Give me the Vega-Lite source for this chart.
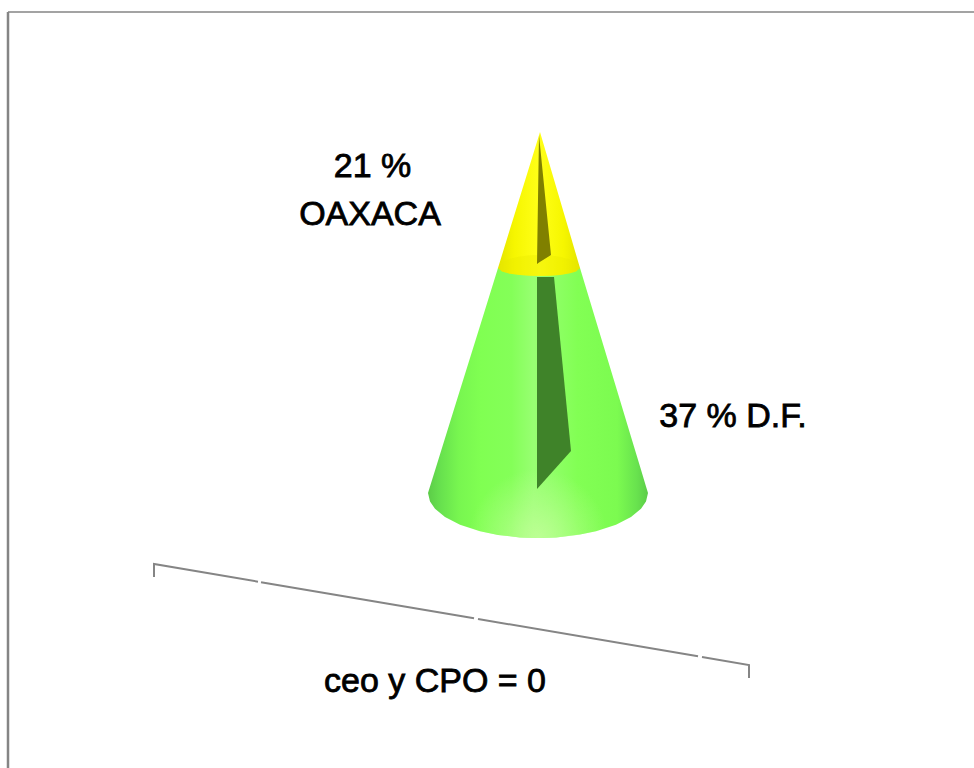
{
  "$schema": "https://vega.github.io/schema/vega-lite/v6.json",
  "width": 974,
  "height": 768,
  "padding": 0,
  "autosize": "none",
  "background": "#ffffff",
  "config": {"view": {"stroke": null}},
  "datasets": {
    "frameTop": [{"x": 8, "y": 12, "i": 0}, {"x": 974, "y": 12, "i": 1}],
    "frameLeft": [{"x": 8, "y": 12, "i": 0}, {"x": 8, "y": 768, "i": 1}],
    "bracket": [
      {"seg": "a", "i": 0, "x": 154, "y": 577},
      {"seg": "a", "i": 1, "x": 154, "y": 564},
      {"seg": "a", "i": 2, "x": 258, "y": 581.7},
      {"seg": "b", "i": 0, "x": 261, "y": 582.2},
      {"seg": "b", "i": 1, "x": 474, "y": 618.3},
      {"seg": "c", "i": 0, "x": 478, "y": 619},
      {"seg": "c", "i": 1, "x": 698, "y": 656.3},
      {"seg": "d", "i": 0, "x": 702, "y": 657},
      {"seg": "d", "i": 1, "x": 749, "y": 665},
      {"seg": "d", "i": 2, "x": 749, "y": 678}
    ],
    "greenBody": [
      {"x": 428, "top": 493, "bottom": 493},
      {"x": 430, "top": 486.6, "bottom": 501.5},
      {"x": 435, "top": 470.5, "bottom": 508.8},
      {"x": 445, "top": 438.3, "bottom": 517},
      {"x": 460, "top": 390.1, "bottom": 524.7},
      {"x": 480, "top": 325.9, "bottom": 531.2},
      {"x": 498, "top": 268, "bottom": 534.9},
      {"x": 520, "top": 268, "bottom": 537.4},
      {"x": 538, "top": 268, "bottom": 538},
      {"x": 556, "top": 268, "bottom": 537.4},
      {"x": 580, "top": 268, "bottom": 534.6},
      {"x": 596, "top": 321, "bottom": 531.2},
      {"x": 616, "top": 387.1, "bottom": 524.7},
      {"x": 631, "top": 436.8, "bottom": 517},
      {"x": 641, "top": 469.8, "bottom": 508.8},
      {"x": 646, "top": 486.4, "bottom": 501.5},
      {"x": 648, "top": 493, "bottom": 493}
    ],
    "greenGlow": [
      {"x": 470, "top": 400, "bottom": 528.5},
      {"x": 480, "top": 400, "bottom": 531.2},
      {"x": 500, "top": 400, "bottom": 535.2},
      {"x": 520, "top": 400, "bottom": 537.4},
      {"x": 538, "top": 400, "bottom": 538},
      {"x": 556, "top": 400, "bottom": 537.4},
      {"x": 576, "top": 400, "bottom": 535.2},
      {"x": 596, "top": 400, "bottom": 531.2},
      {"x": 606, "top": 400, "bottom": 528.5}
    ],
    "yellowTip": [
      {"x": 498, "top": 268, "bottom": 268},
      {"x": 502, "top": 255, "bottom": 271.4},
      {"x": 510, "top": 229.1, "bottom": 273.7},
      {"x": 520, "top": 196.8, "bottom": 275.1},
      {"x": 530, "top": 164.4, "bottom": 275.8},
      {"x": 540, "top": 132, "bottom": 276},
      {"x": 550, "top": 166, "bottom": 275.7},
      {"x": 560, "top": 200, "bottom": 274.9},
      {"x": 570, "top": 234, "bottom": 273.2},
      {"x": 576, "top": 254.4, "bottom": 271.4},
      {"x": 580, "top": 268, "bottom": 268}
    ],
    "yellowRim": [
      {"x": 498, "top": 268, "bottom": 268},
      {"x": 502, "top": 262.4, "bottom": 271.4},
      {"x": 510, "top": 258.8, "bottom": 273.7},
      {"x": 520, "top": 256.5, "bottom": 275.1},
      {"x": 530, "top": 255.3, "bottom": 275.8},
      {"x": 540, "top": 255, "bottom": 276},
      {"x": 550, "top": 255.5, "bottom": 275.7},
      {"x": 560, "top": 256.8, "bottom": 274.9},
      {"x": 570, "top": 259.5, "bottom": 273.2},
      {"x": 576, "top": 262.4, "bottom": 271.4},
      {"x": 580, "top": 268, "bottom": 268}
    ],
    "greenShadow": [
      {"x": 537, "top": 277, "bottom": 489},
      {"x": 554, "top": 277, "bottom": 470},
      {"x": 571, "top": 451, "bottom": 451}
    ],
    "yellowShadow": [
      {"x": 537, "top": 264, "bottom": 264},
      {"x": 539, "top": 135, "bottom": 262.4},
      {"x": 551, "top": 255, "bottom": 255}
    ],
    "labels": [
      {"x": 372.5, "y": 177, "text": "21 %"},
      {"x": 370, "y": 225, "text": "OAXACA"},
      {"x": 733, "y": 427, "text": "37 % D.F."},
      {"x": 435, "y": 692, "text": "ceo y CPO = 0"}
    ]
  },
  "layer": [
    {
      "data": {"name": "frameTop"},
      "mark": {"type": "line", "color": "#858585", "strokeWidth": 1.5},
      "encoding": {
        "x": {"field": "x", "type": "quantitative", "scale": {"domain": [0, 974], "nice": false, "zero": false}, "axis": null},
        "y": {"field": "y", "type": "quantitative", "scale": {"domain": [768, 0], "nice": false, "zero": false}, "axis": null},
        "order": {"field": "i"}
      }
    },
    {
      "data": {"name": "frameLeft"},
      "mark": {"type": "line", "color": "#858585", "strokeWidth": 2.5},
      "encoding": {
        "x": {"field": "x", "type": "quantitative", "axis": null},
        "y": {"field": "y", "type": "quantitative", "axis": null},
        "order": {"field": "i"}
      }
    },
    {
      "data": {"name": "bracket"},
      "mark": {"type": "line", "color": "#858585", "strokeWidth": 2},
      "encoding": {
        "x": {"field": "x", "type": "quantitative", "axis": null},
        "y": {"field": "y", "type": "quantitative", "axis": null},
        "detail": {"field": "seg"},
        "order": {"field": "i"}
      }
    },
    {
      "data": {"name": "greenBody"},
      "mark": {
        "type": "area",
        "color": {
          "gradient": "linear", "x1": 0, "x2": 1, "y1": 0, "y2": 0,
          "stops": [
            {"offset": 0, "color": "#5ccc48"},
            {"offset": 0.05, "color": "#66df4e"},
            {"offset": 0.14, "color": "#78f650"},
            {"offset": 0.24, "color": "#80ff52"},
            {"offset": 0.38, "color": "#84ff58"},
            {"offset": 0.48, "color": "#98ff72"},
            {"offset": 0.56, "color": "#90ff68"},
            {"offset": 0.68, "color": "#82ff54"},
            {"offset": 0.86, "color": "#7cfb50"},
            {"offset": 0.95, "color": "#68e24e"},
            {"offset": 1, "color": "#5ccc48"}
          ]
        }
      },
      "encoding": {
        "x": {"field": "x", "type": "quantitative", "axis": null},
        "y": {"field": "top", "type": "quantitative", "axis": null},
        "y2": {"field": "bottom"}
      }
    },
    {
      "data": {"name": "greenGlow"},
      "mark": {
        "type": "area",
        "color": {
          "gradient": "radial", "x1": 0.5, "y1": 1, "r1": 0, "x2": 0.5, "y2": 1, "r2": 0.5,
          "stops": [
            {"offset": 0, "color": "rgba(190,255,150,0.95)"},
            {"offset": 0.5, "color": "rgba(190,255,150,0.45)"},
            {"offset": 1, "color": "rgba(190,255,150,0)"}
          ]
        }
      },
      "encoding": {
        "x": {"field": "x", "type": "quantitative", "axis": null},
        "y": {"field": "top", "type": "quantitative", "axis": null},
        "y2": {"field": "bottom"}
      }
    },
    {
      "data": {"name": "yellowTip"},
      "mark": {
        "type": "area",
        "color": {
          "gradient": "linear", "x1": 0, "x2": 1, "y1": 0, "y2": 0,
          "stops": [
            {"offset": 0, "color": "#e4e400"},
            {"offset": 0.2, "color": "#f6f600"},
            {"offset": 0.5, "color": "#ffff18"},
            {"offset": 0.8, "color": "#f6f600"},
            {"offset": 1, "color": "#e4e400"}
          ]
        }
      },
      "encoding": {
        "x": {"field": "x", "type": "quantitative", "axis": null},
        "y": {"field": "top", "type": "quantitative", "axis": null},
        "y2": {"field": "bottom"}
      }
    },
    {
      "data": {"name": "yellowRim"},
      "mark": {"type": "area", "color": "#e8e800", "opacity": 0.35},
      "encoding": {
        "x": {"field": "x", "type": "quantitative", "axis": null},
        "y": {"field": "top", "type": "quantitative", "axis": null},
        "y2": {"field": "bottom"}
      }
    },
    {
      "data": {"name": "greenShadow"},
      "mark": {"type": "area", "color": "#3f8329"},
      "encoding": {
        "x": {"field": "x", "type": "quantitative", "axis": null},
        "y": {"field": "top", "type": "quantitative", "axis": null},
        "y2": {"field": "bottom"}
      }
    },
    {
      "data": {"name": "yellowShadow"},
      "mark": {"type": "area", "color": "#808000"},
      "encoding": {
        "x": {"field": "x", "type": "quantitative", "axis": null},
        "y": {"field": "top", "type": "quantitative", "axis": null},
        "y2": {"field": "bottom"}
      }
    },
    {
      "data": {"name": "labels"},
      "mark": {
        "type": "text",
        "font": "Liberation Sans",
        "fontSize": 34,
        "fontWeight": "normal",
        "color": "#000000",
        "stroke": "#000000",
        "strokeWidth": 0.8,
        "align": "center",
        "baseline": "alphabetic"
      },
      "encoding": {
        "x": {"field": "x", "type": "quantitative", "axis": null},
        "y": {"field": "y", "type": "quantitative", "axis": null},
        "text": {"field": "text"}
      }
    }
  ]
}
